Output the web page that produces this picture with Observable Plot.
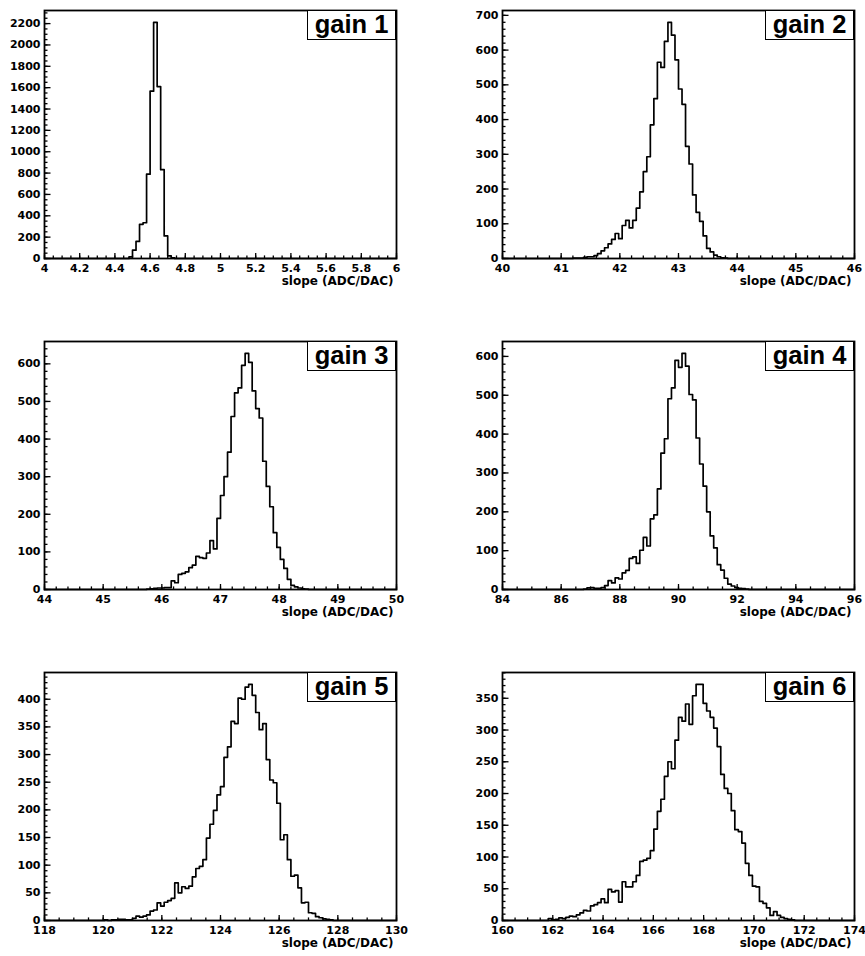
<!DOCTYPE html>
<html><head><meta charset="utf-8">
<script src="https://cdn.jsdelivr.net/npm/d3@7"></script>
<script src="https://cdn.jsdelivr.net/npm/@observablehq/plot@0.6"></script>
<style>
body{margin:0;background:#fff;}
#chart{position:relative;width:865px;height:956px;background:#fff;overflow:hidden;}
.panel{position:absolute;}
.gain{position:absolute;box-sizing:border-box;width:89px;height:30px;border:1.6px solid #000;background:#fff;font:bold 25.5px "Liberation Sans",Arial,sans-serif;line-height:26px;text-align:center;color:#000;}
</style></head><body><div id="chart"></div>
<script>
// ---- data ----
const gainLabels = ["gain 1", "gain 2", "gain 3", "gain 4", "gain 5", "gain 6"];
const xLabel = "slope (ADC/DAC)";
const xMin = [4, 40, 44, 84, 118, 160];
const xMax = [6, 46, 50, 96, 130, 174];
const nBins = 100;
const firstBin = [24, 20, 29, 23, 17, 13];

const counts1 = [15, 78, 160, 320, 335, 790, 1567, 2212, 1610, 832, 211, 25, 5];
const counts2 = [1, 1, 1, 3, 5, 5, 8, 14, 22, 31, 42, 55, 72, 57, 95, 110, 88, 110, 145, 192, 250, 293, 385, 460, 565, 550, 625, 680, 643, 572, 488, 444, 323, 272, 183, 133, 107, 65, 29, 19, 10, 5, 2, 1];
const counts3 = [1, 2, 3, 4, 4, 5, 5, 23, 18, 40, 43, 47, 58, 65, 88, 85, 83, 97, 130, 108, 189, 250, 300, 365, 460, 523, 536, 596, 628, 604, 528, 481, 456, 341, 274, 220, 151, 112, 80, 56, 27, 11, 7, 4, 2, 1];
const counts4 = [1, 4, 5, 3, 3, 5, 10, 23, 17, 30, 27, 43, 49, 80, 84, 67, 101, 134, 112, 182, 192, 259, 351, 388, 491, 519, 590, 572, 608, 575, 502, 488, 390, 323, 266, 200, 138, 107, 64, 50, 29, 14, 9, 5, 3, 2, 1];
const counts5 = [1, 0, 1, 1, 2, 2, 1, 1, 4, 8, 6, 8, 10, 17, 19, 32, 26, 33, 36, 40, 68, 50, 61, 58, 62, 79, 94, 98, 110, 149, 174, 199, 227, 242, 295, 314, 360, 356, 402, 400, 422, 427, 407, 376, 345, 356, 291, 254, 249, 212, 146, 155, 110, 80, 82, 59, 32, 33, 14, 13, 7, 5, 3, 2, 1];
const counts6 = [3, 1, 2, 4, 3, 5, 7, 6, 9, 12, 16, 15, 23, 25, 28, 34, 28, 49, 45, 47, 29, 61, 53, 53, 61, 71, 93, 95, 98, 110, 144, 172, 191, 227, 250, 239, 284, 320, 314, 341, 309, 354, 372, 372, 342, 330, 320, 303, 274, 230, 208, 200, 173, 143, 140, 122, 90, 71, 54, 53, 30, 27, 20, 8, 14, 8, 5, 3, 2, 1];
const allCounts = [counts1, counts2, counts3, counts4, counts5, counts6];

const xTicks1 = [4, 4.2, 4.4, 4.6, 4.8, 5, 5.2, 5.4, 5.6, 5.8, 6];
const xTicks2 = [40, 41, 42, 43, 44, 45, 46];
const xTicks3 = [44, 45, 46, 47, 48, 49, 50];
const xTicks4 = [84, 86, 88, 90, 92, 94, 96];
const xTicks5 = [118, 120, 122, 124, 126, 128, 130];
const xTicks6 = [160, 162, 164, 166, 168, 170, 172, 174];
const allXTicks = [xTicks1, xTicks2, xTicks3, xTicks4, xTicks5, xTicks6];

const yTicks1 = [0, 200, 400, 600, 800, 1000, 1200, 1400, 1600, 1800, 2000, 2200];
const yTicks2 = [0, 100, 200, 300, 400, 500, 600, 700];
const yTicks3 = [0, 100, 200, 300, 400, 500, 600];
const yTicks4 = [0, 100, 200, 300, 400, 500, 600];
const yTicks5 = [0, 50, 100, 150, 200, 250, 300, 350, 400];
const yTicks6 = [0, 50, 100, 150, 200, 250, 300, 350];
const allYTicks = [yTicks1, yTicks2, yTicks3, yTicks4, yTicks5, yTicks6];

const xMinorStep = [0.05, 0.2, 0.2, 0.5, 0.5, 0.5];
const yMinorStep = [50, 20, 20, 20, 10, 10];

// ---- layout ----
const frameLeft = [44, 502];
const frameTop = [10, 341, 672];
const frameW = 352, frameH = 248;
const mL = 44, mR = 10, mT = 10, mB = 36;

const chart = document.getElementById("chart");

function stepTicks(lo, hi, step) {
  const n = Math.round((hi - lo) / step);
  return d3.range(0, n + 1).map(j => +(lo + j * step).toFixed(6));
}

for (let i = 0; i < 6; i++) {
  const col = i % 2, row = Math.floor(i / 2);
  const counts = allCounts[i];
  const w = (xMax[i] - xMin[i]) / nBins;
  const bins = [];
  for (let k = 0; k <= nBins; k++) {
    const c = k < nBins ? (counts[k - firstBin[i]] ?? 0) : 0;
    bins.push({x: xMin[i] + k * w, y: c});
  }
  const ymax = 1.05 * d3.max(counts);
  const yMinor = stepTicks(0, Math.floor(ymax / yMinorStep[i]) * yMinorStep[i], yMinorStep[i]);
  const xMinor = stepTicks(xMin[i], xMax[i], xMinorStep[i]);
  const fmt = d => String(d);

  const plot = Plot.plot({
    width: mL + frameW + mR,
    height: mT + frameH + mB,
    marginLeft: mL, marginRight: mR, marginTop: mT, marginBottom: mB,
    style: {fontFamily: "DejaVu Sans", fontWeight: "bold", fontSize: "11px", color: "#000", background: "transparent", overflow: "visible"},
    x: {domain: [xMin[i], xMax[i]]},
    y: {domain: [0, ymax]},
    marks: [
      Plot.lineY(bins, {x: "x", y: "y", curve: "step-after", stroke: "#000", strokeWidth: 1.7}),
      Plot.frame({stroke: "#000", strokeWidth: 1.8}),
      Plot.axisX({ticks: xMinor, tickSize: 2.6, dy: -2.6, fill: "none", label: null, stroke: "#000", strokeWidth: 1.3}),
      Plot.axisX({ticks: allXTicks[i], tickSize: 5, dy: -5, fill: "none", label: null, stroke: "#000", strokeWidth: 1.3}),
      Plot.axisX({ticks: allXTicks[i], tickSize: 0, tickPadding: 6, label: null, tickFormat: fmt, fontSize: 11, fontWeight: "bold", fill: "#000"}),
      Plot.axisY({ticks: yMinor, tickSize: 3.5, dx: 3.5, fill: "none", label: null, stroke: "#000", strokeWidth: 1.3}),
      Plot.axisY({ticks: allYTicks[i], tickSize: 6.5, dx: 6.5, fill: "none", label: null, stroke: "#000", strokeWidth: 1.3}),
      Plot.axisY({ticks: allYTicks[i], tickSize: 0, tickPadding: 4, label: null, tickFormat: fmt, fontSize: 11, fontWeight: "bold", fill: "#000"}),
      Plot.text([xLabel], {frameAnchor: "bottom-right", text: d => d, textAnchor: "end", lineAnchor: "middle", dy: 23, dx: -3, fontSize: 12, fontWeight: "bold", fill: "#000"})
    ]
  });
  plot.classList.add("panel");
  plot.style.left = (frameLeft[col] - mL) + "px";
  plot.style.top = (frameTop[row] - mT) + "px";
  chart.appendChild(plot);

  const box = document.createElement("div");
  box.className = "gain";
  box.textContent = gainLabels[i];
  box.style.left = (frameLeft[col] + frameW - 89) + "px";
  box.style.top = frameTop[row] + "px";
  chart.appendChild(box);
}
</script></body></html>
